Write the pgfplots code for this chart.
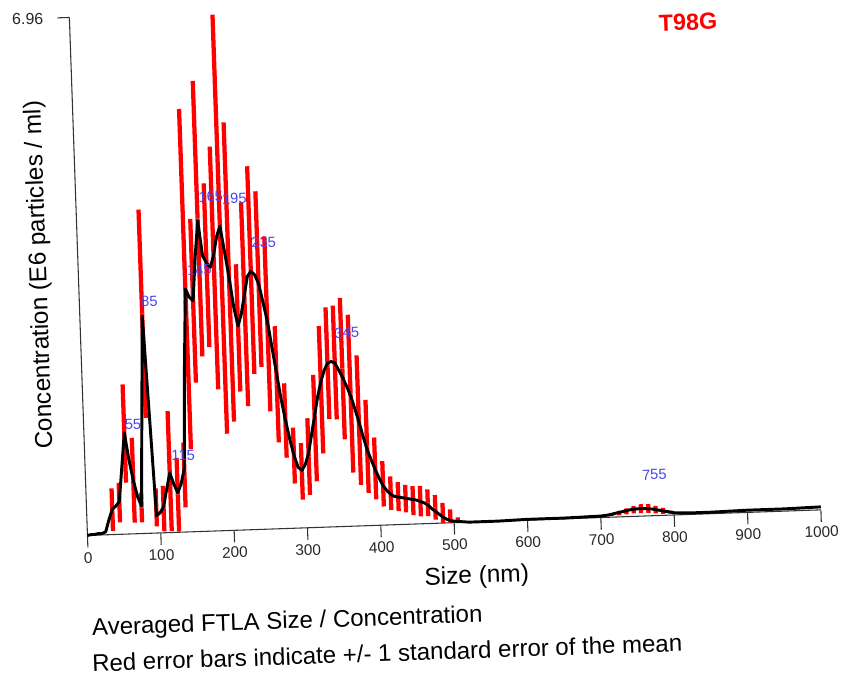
\documentclass[border=0pt]{standalone}
\usepackage{pgfplots}
\pgfplotsset{compat=1.18}
\usepackage{fontspec}
\setmainfont{Liberation Sans}
\setsansfont{Liberation Sans}
\definecolor{peakblue}{RGB}{70,70,235}
\begin{document}
\begin{tikzpicture}
\begin{axis}[
  at={(0pt,0pt)}, anchor=origin,
  x={(0.55006pt,0.01921pt)}, y={(-1.949pt,55.82pt)},
  xmin=0, xmax=1000, ymin=0, ymax=6.96,
  axis x line=bottom, axis y line=left,
  axis line style={-, black!80, line width=0.8pt},
  clip=false,
  tick align=outside,
  major tick length=9pt,
  tick style={black!80, line width=0.8pt},
  xtick={0,100,200,300,400,500,600,700,800,900,1000},
  xticklabels={0,100,200,300,400,500,600,700,800,900,1000},
  ytick={6.96}, yticklabels={6.96},
  xticklabel style={font=\fontsize{11.5}{13}\selectfont, rotate=2, text=black!85},
  yticklabel style={font=\fontsize{12}{14}\selectfont, xshift=-7pt, text=black!85},
  /pgf/number format/assume math mode=true,
]
\addplot[draw=none, mark=none,
  error bars/.cd, y dir=both, y explicit, error mark=none,
  error bar style={line width=3.2pt, draw=red, solid}]
  table[x=x, y=c, y error=e] {
x c e
35 0.335 0.285
45 0.425 0.265
55 1.35 0.66
65 0.72 0.57
75 0.35 0.20
85 2.95 1.40
95 0.345 0.255
105 0.325 0.305
115 0.825 0.805
125 0.505 0.495
135 0.765 0.435
145 3.395 2.285
155 3.10 1.10
165 4.20 1.85
175 3.57 1.10
185 3.53 1.63
195 4.115 2.815
205 3.47 2.01
215 2.715 0.855
225 3.03 1.37
235 3.485 1.395
245 3.36 1.18
255 2.755 1.175
265 1.94 0.78
275 1.45 0.50
285 0.975 0.375
295 0.76 0.38
305 0.955 0.515
315 1.335 0.715
325 1.845 0.855
335 2.20 0.75
345 2.205 0.765
355 2.12 0.95
365 1.78 1.06
375 1.42 0.87
385 1.065 0.625
395 0.765 0.415
405 0.555 0.305
415 0.425 0.225
425 0.375 0.195
435 0.345 0.185
445 0.315 0.195
455 0.305 0.205
465 0.28 0.18
475 0.215 0.165
485 0.135 0.135
495 0.09 0.09
505 0.035 0.035
715 0.035 0.02
725 0.05 0.03
735 0.07 0.04
745 0.09 0.05
755 0.10 0.06
765 0.10 0.06
775 0.08 0.05
785 0.06 0.04
795 0.04 0.02
};
\addplot[black, line width=2.2pt, line join=round, mark=none] table[x=x, y=y] {
x y
0 0.00
5 0.01
10 0.01
15 0.02
20 0.02
25 0.04
30 0.20
35 0.34
40 0.38
45 0.44
50 0.90
55 1.36
60 1.00
65 0.72
70 0.50
75 0.37
80 1.65
85 2.92
90 1.58
95 0.23
100 0.27
105 0.35
110 0.58
115 0.80
120 0.65
125 0.53
130 0.65
135 0.85
140 2.20
145 3.26
150 3.15
155 3.10
160 3.70
165 4.17
170 3.70
175 3.60
180 3.54
185 3.70
190 3.95
195 4.09
200 3.75
205 3.40
210 3.00
215 2.74
220 2.90
225 3.15
230 3.40
235 3.47
240 3.42
245 3.30
250 3.05
255 2.80
260 2.45
265 2.10
270 1.75
275 1.46
280 1.20
285 0.98
290 0.82
295 0.77
300 0.85
305 1.00
310 1.25
315 1.50
320 1.75
325 1.95
330 2.10
335 2.20
340 2.22
345 2.20
350 2.10
355 2.00
360 1.88
365 1.75
370 1.58
375 1.40
380 1.20
385 1.02
390 0.88
395 0.75
400 0.63
405 0.53
410 0.46
415 0.41
420 0.38
425 0.37
430 0.36
435 0.35
440 0.34
445 0.33
450 0.32
455 0.30
460 0.28
465 0.25
470 0.20
475 0.16
480 0.12
485 0.08
490 0.05
495 0.03
500 0.02
520 0.00
560 0.00
600 0.01
650 0.01
700 0.02
710 0.03
720 0.05
730 0.07
740 0.09
750 0.10
760 0.10
770 0.09
780 0.07
790 0.05
800 0.03
820 0.02
850 0.02
900 0.03
950 0.03
1000 0.04
};
\begin{scope}[every node/.style={text=peakblue, font=\fontsize{11}{13}\selectfont, anchor=west, rotate=2, inner sep=0.5pt}]
\node at (axis cs:55,1.47) {55};
\node at (axis cs:83,3.11) {85};
\node at (axis cs:117,1.03) {115};
\node at (axis cs:147,3.51) {145};
\node at (axis cs:166,4.49) {165};
\node at (axis cs:198,4.45) {195};
\node at (axis cs:236,3.85) {235};
\node at (axis cs:345,2.60) {345};
\node at (axis cs:757,0.55) {755};
\end{scope}
\end{axis}
\node[rotate=2, font=\fontsize{18.3}{20}\selectfont] at (292pt,-31.1pt) {Size (nm)};
\node[rotate=92, font=\fontsize{18.3}{20}\selectfont] at (-35.6pt,195.4pt) {Concentration (E6 particles / ml)};
\node[rotate=2, text=red, font=\fontsize{17.5}{19}\selectfont\bfseries] at (450.4pt,385.1pt) {T98G};
\node[anchor=west, rotate=2, inner sep=0pt, font=\fontsize{18}{20}\selectfont] at (3.4pt,-70.4pt) {Averaged FTLA Size / Concentration};
\node[anchor=west, rotate=2, inner sep=0pt, font=\fontsize{18}{20}\selectfont] at (3.4pt,-95.8pt) {Red error bars indicate +/- 1 standard error of the mean};
\pgfresetboundingbox
\path (-65.6pt,-106.1pt) rectangle (571.9pt,401.6pt);
\end{tikzpicture}
\end{document}
